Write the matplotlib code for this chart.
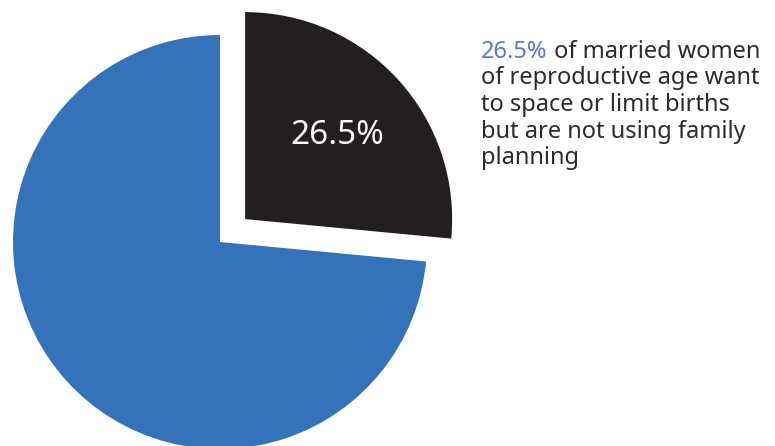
import matplotlib.pyplot as plt

# share of married women (reproductive age) with unmet need for family planning
values = [26.5, 73.5]
colors = ["#231f20", "#3473b9"]
pct_label = "26.5%"
rest_first = " of married women"
rest_lines = [
    "of reproductive age want",
    "to space or limit births",
    "but are not using family",
    "planning",
]

W, H = 775, 446

fig = plt.figure(figsize=(W / 100, H / 100), dpi=100)
ax = fig.add_axes([0, 0, 1, 1])

# explode is in data units here (pixels)
wedges, texts, autotexts = ax.pie(
    values,
    colors=colors,
    startangle=90,
    counterclock=False,
    explode=[34, 0],
    center=(220, H - 242),
    radius=207,
    autopct=lambda p: pct_label if p < 50 else "",
    pctdistance=0.6,
    frame=True,
    wedgeprops={"linewidth": 0},
    textprops={"color": "white", "fontsize": 24, "family": "Noto Sans"},
)
ax.set_xlim(0, W)
ax.set_ylim(0, H)
ax.set_aspect("equal")
ax.axis("off")

# side note
fs = 17
t = ax.text(481, H - 58, pct_label, color="#5b7bc0", fontsize=fs,
            family="Noto Sans", va="baseline", ha="left")
ax.annotate(rest_first, xy=(1, 0), xycoords=t, color="#2b2b2b",
            fontsize=fs, family="Noto Sans", va="bottom", ha="left")
for i, line in enumerate(rest_lines):
    ax.text(481, H - 58 - 26.5 * (i + 1), line, color="#2b2b2b", fontsize=fs,
            family="Noto Sans", va="baseline", ha="left")

fig.savefig("out.png", dpi=100)
